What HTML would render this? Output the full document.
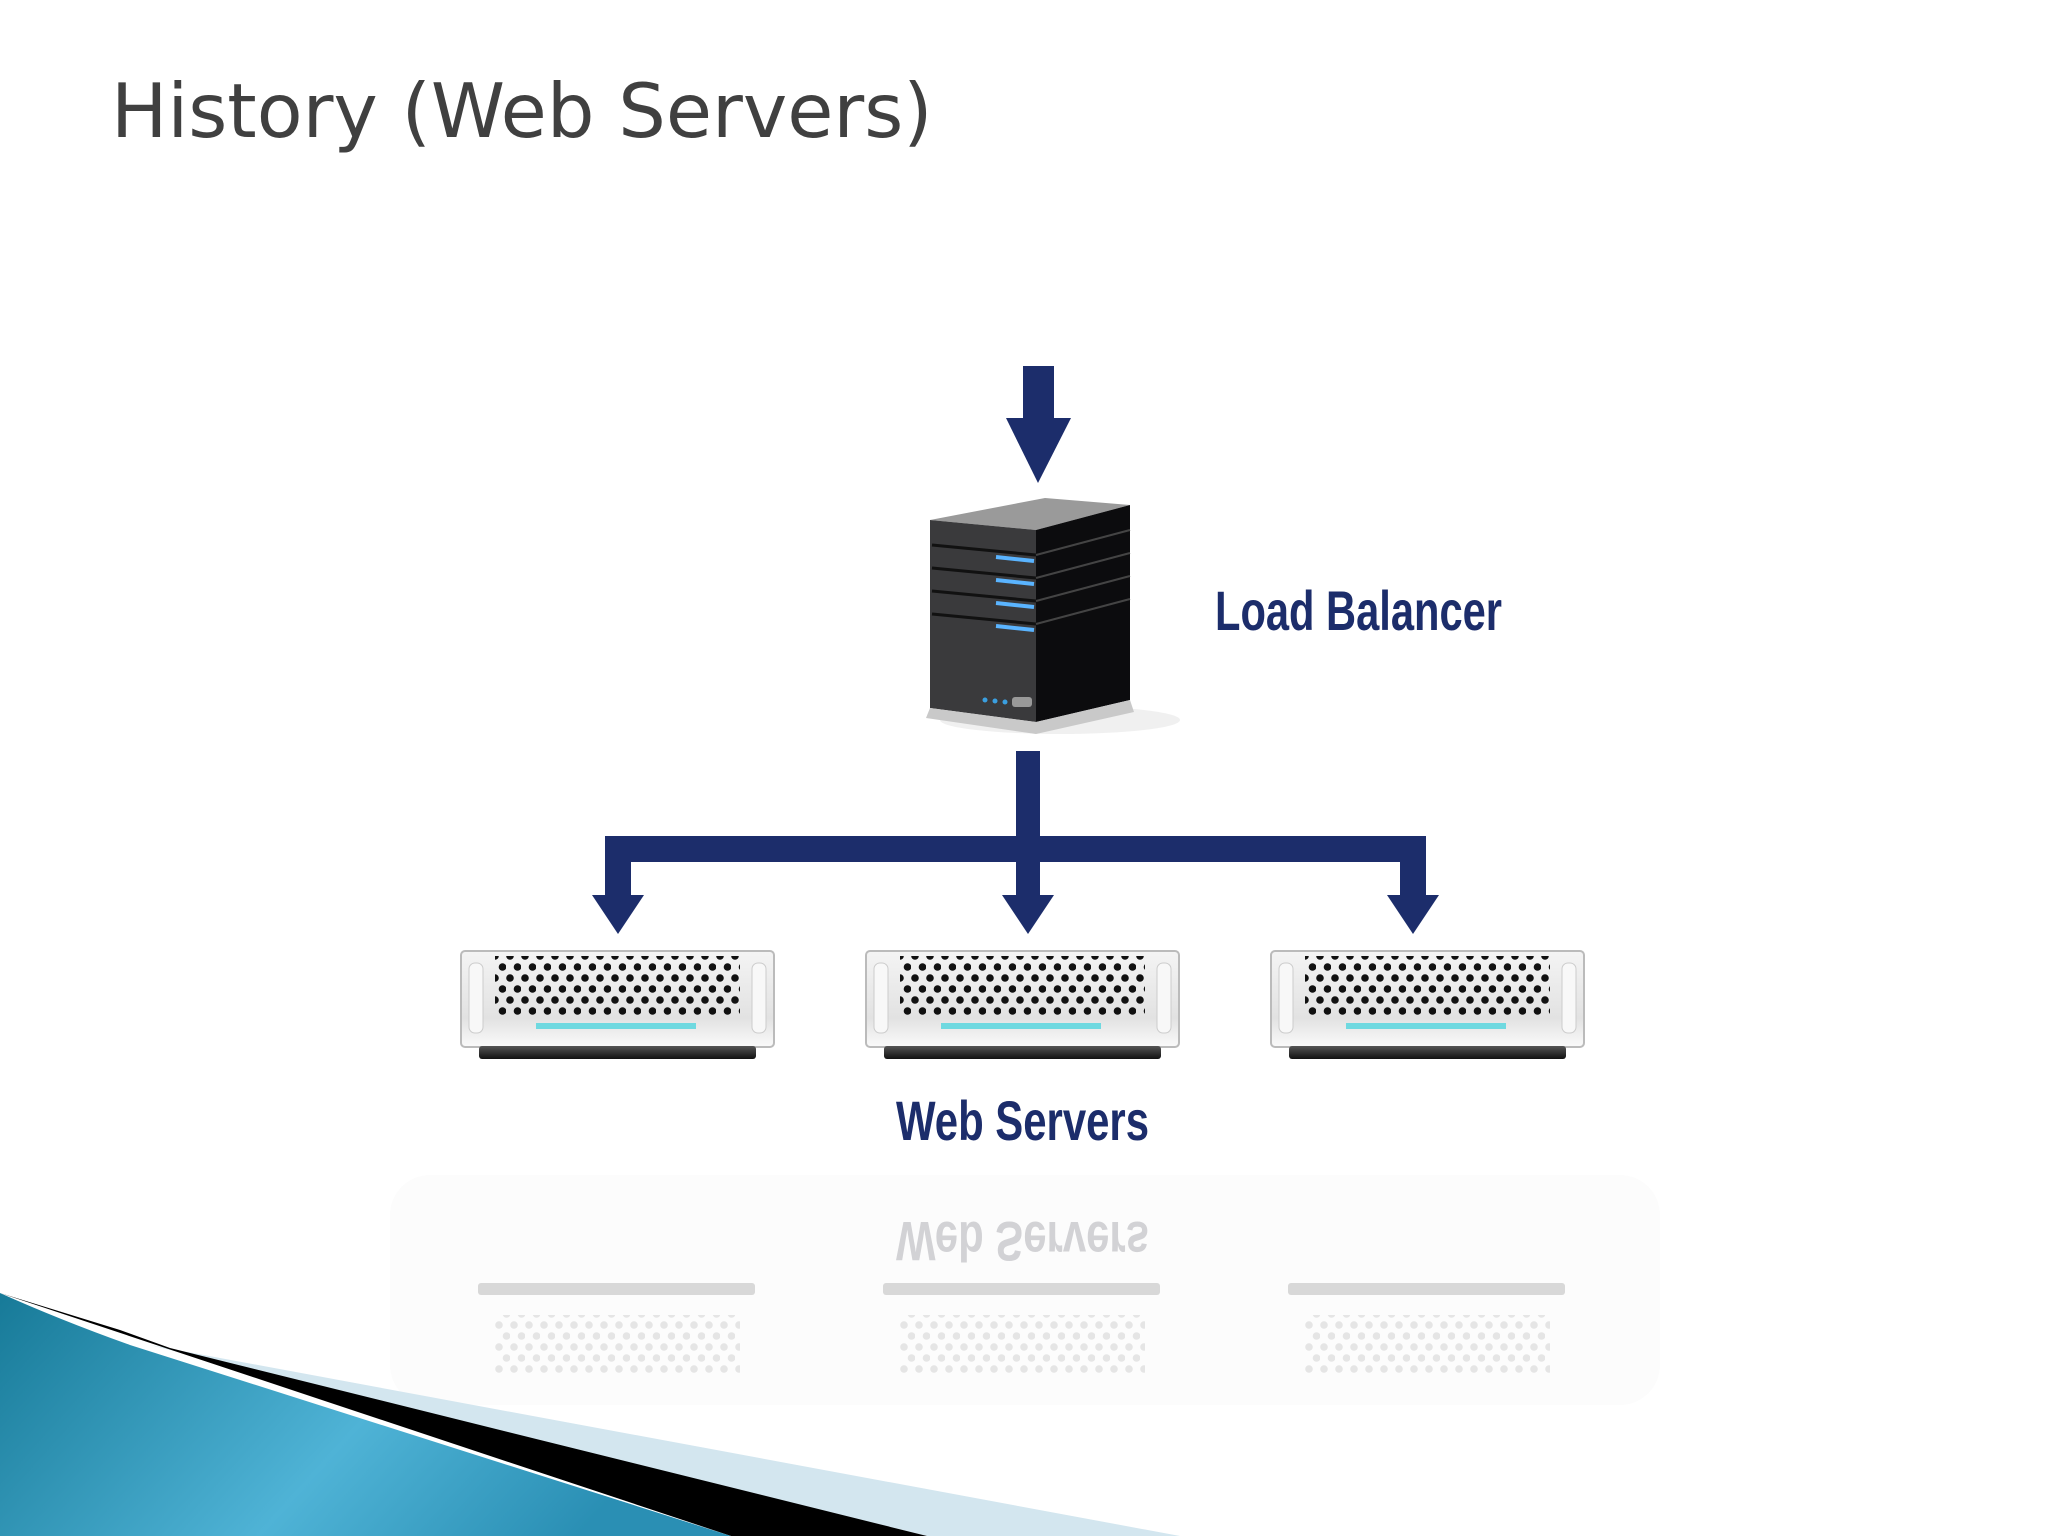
<!DOCTYPE html>
<html><head><meta charset="utf-8"><style>
html,body{margin:0;padding:0;background:#fff;}
svg{display:block}
</style></head><body>
<svg width="2048" height="1536" viewBox="0 0 2048 1536" xmlns="http://www.w3.org/2000/svg">
<defs>
<pattern id="dots" x="0" y="0" width="15" height="22" patternUnits="userSpaceOnUse">
<circle cx="4" cy="5" r="3.8" fill="#111"/>
<circle cx="11.5" cy="16" r="3.8" fill="#111"/>
</pattern>
<linearGradient id="box" x1="0" y1="0" x2="0" y2="1">
<stop offset="0" stop-color="#f4f4f4"/><stop offset="0.7" stop-color="#e2e2e2"/><stop offset="1" stop-color="#fafafa"/>
</linearGradient>
<linearGradient id="blue" x1="0" y1="0" x2="1" y2="0.3">
<stop offset="0" stop-color="#177a98"/><stop offset="0.6" stop-color="#4fb3d6"/><stop offset="1" stop-color="#2a8fb4"/>
</linearGradient>
<linearGradient id="bar" x1="0" y1="0" x2="0" y2="1">
<stop offset="0" stop-color="#555"/><stop offset="1" stop-color="#111"/>
</linearGradient>
<g id="ws">
<rect x="0" y="0" width="313" height="96" rx="4" fill="url(#box)" stroke="#bbb" stroke-width="2"/>
<rect x="8" y="12" width="14" height="70" rx="6" fill="#f8f8f8" stroke="#ccc"/>
<rect x="291" y="12" width="14" height="70" rx="6" fill="#f8f8f8" stroke="#ccc"/>
<rect x="34" y="5" width="245" height="62" fill="url(#dots)"/>
<rect x="75" y="72" width="160" height="6" fill="#6fd9e0"/>
<rect x="18" y="95" width="277" height="13" rx="3" fill="url(#bar)"/>
</g>
</defs>

<text x="111" y="137" font-family="'DejaVu Sans', 'Liberation Sans', sans-serif" font-size="75" fill="#404040">History (Web Servers)</text>

<rect x="1023" y="366" width="31" height="56" fill="#1c2d6b"/>
<polygon points="1006,418 1071,418 1038,483" fill="#1c2d6b"/>

<ellipse cx="1060" cy="720" rx="120" ry="14" fill="#e6e6e6" opacity="0.6"/>
<polygon points="930,520 1045,498 1130,505 1036,530" fill="#9a9a9a"/>
<polygon points="930,520 1036,530 1036,722 930,708" fill="#3a3a3c"/>
<polygon points="1036,530 1130,505 1130,700 1036,722" fill="#0c0c0e"/>
<polygon points="930,708 1036,722 1130,700 1134,712 1036,734 926,718" fill="#c9c9c9"/>
<g stroke="#111" stroke-width="3">
<line x1="932" y1="545" x2="1036" y2="555"/><line x1="932" y1="568" x2="1036" y2="578"/>
<line x1="932" y1="591" x2="1036" y2="601"/><line x1="932" y1="614" x2="1036" y2="624"/>
</g>
<g stroke="#444" stroke-width="2">
<line x1="1036" y1="555" x2="1130" y2="530"/><line x1="1036" y1="578" x2="1130" y2="553"/>
<line x1="1036" y1="601" x2="1130" y2="576"/><line x1="1036" y1="624" x2="1130" y2="599"/>
</g>
<g stroke="#5ab4ff" stroke-width="4">
<line x1="996" y1="557" x2="1034" y2="561"/><line x1="996" y1="580" x2="1034" y2="584"/>
<line x1="996" y1="603" x2="1034" y2="607"/><line x1="996" y1="626" x2="1034" y2="630"/>
</g>
<circle cx="985" cy="700" r="2.5" fill="#3a9fe0"/><circle cx="995" cy="701" r="2.5" fill="#3a9fe0"/><circle cx="1005" cy="702" r="2.5" fill="#3a9fe0"/>
<rect x="1012" y="697" width="20" height="10" rx="3" fill="#999"/>

<text x="1215" y="630" font-family="'Liberation Sans',sans-serif" font-weight="bold" font-size="56" fill="#1c2d6b" textLength="287" lengthAdjust="spacingAndGlyphs">Load Balancer</text>

<g fill="#1c2d6b">
<rect x="1016" y="751" width="24" height="110"/>
<rect x="605" y="836" width="821" height="26"/>
<rect x="605" y="836" width="26" height="62"/>
<rect x="1016" y="836" width="24" height="62"/>
<rect x="1400" y="836" width="26" height="62"/>
<polygon points="592,895 644,895 618,934"/>
<polygon points="1002,895 1054,895 1028,934"/>
<polygon points="1387,895 1439,895 1413,934"/>
</g>

<use href="#ws" x="461" y="951"/>
<use href="#ws" x="866" y="951"/>
<use href="#ws" x="1271" y="951"/>

<text x="896" y="1140" font-family="'Liberation Sans',sans-serif" font-weight="bold" font-size="56" fill="#1c2d6b" textLength="253" lengthAdjust="spacingAndGlyphs">Web Servers</text>

<rect x="390" y="1175" width="1270" height="230" rx="40" fill="#fcfcfc"/>
<text x="896" y="1178" transform="translate(0,2400) scale(1,-1)" font-family="'Liberation Sans',sans-serif" font-weight="bold" font-size="56" fill="#c8c8cc" textLength="253" lengthAdjust="spacingAndGlyphs" opacity="0.8">Web Servers</text>
<g fill="#d8d8d8">
<rect x="478" y="1283" width="277" height="12" rx="3"/>
<rect x="883" y="1283" width="277" height="12" rx="3"/>
<rect x="1288" y="1283" width="277" height="12" rx="3"/>
</g>
<g opacity="0.1">
<rect x="495" y="1315" width="245" height="60" fill="url(#dots)"/>
<rect x="900" y="1315" width="245" height="60" fill="url(#dots)"/>
<rect x="1305" y="1315" width="245" height="60" fill="url(#dots)"/>
</g>

<polygon points="150,1345 1180,1536 927,1536" fill="#d3e6ef"/>
<polygon points="0,1293 120,1330 170,1348 927,1536 731,1536" fill="#000"/>
<path d="M0,1293 Q60,1320 130,1345 L731,1536 L0,1536 Z" fill="url(#blue)"/>
</svg>
</body></html>
